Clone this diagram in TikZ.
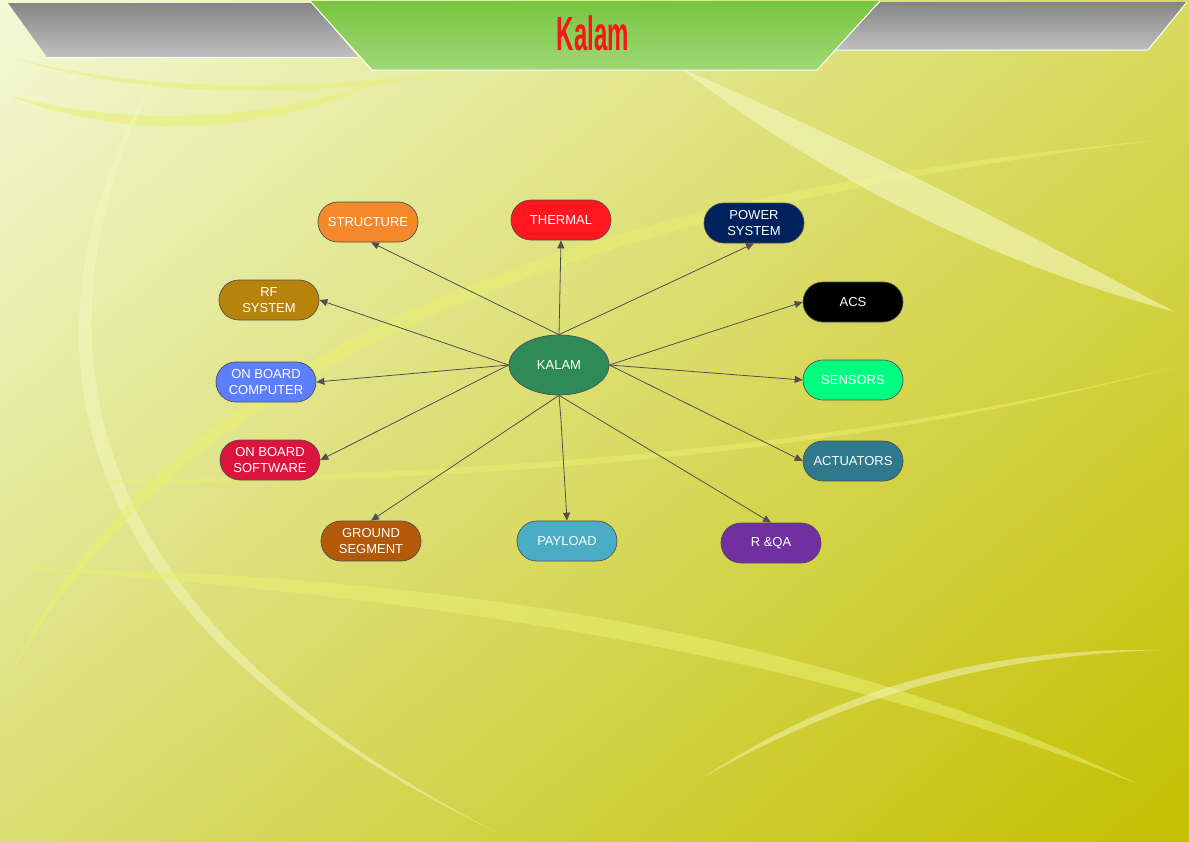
\documentclass[tikz,border=0pt]{standalone}
\usepackage{fontspec}
\usepackage{graphicx}
\setmainfont{Liberation Sans}
\usetikzlibrary{arrows.meta,shapes.geometric,shadings}
\definecolor{bgTL}{HTML}{F3F9D6}
\definecolor{bgTR}{HTML}{D8DA5E}
\definecolor{bgBL}{HTML}{DADE72}
\definecolor{bgBR}{HTML}{C4BF00}
\definecolor{swoosh}{HTML}{E8F070}
\definecolor{swooshLight}{HTML}{F4F8C0}
\definecolor{cStructure}{HTML}{F5882A}
\definecolor{cThermal}{HTML}{FF161E}
\definecolor{cPower}{HTML}{00215E}
\definecolor{cAcs}{HTML}{000000}
\definecolor{cSensors}{HTML}{00FF80}
\definecolor{cActuators}{HTML}{2E7A8C}
\definecolor{cRqa}{HTML}{7030A0}
\definecolor{cPayload}{HTML}{4BACC6}
\definecolor{cGround}{HTML}{B4580A}
\definecolor{cObs}{HTML}{DC143C}
\definecolor{cObc}{HTML}{5B7FFF}
\definecolor{cRf}{HTML}{B8830B}
\definecolor{cKalam}{HTML}{2E8B57}
\definecolor{edgeGray}{HTML}{505050}
\definecolor{titleRed}{HTML}{F51616}
\definecolor{hdrGreenTop}{HTML}{76C63E}
\definecolor{hdrGreenBot}{HTML}{A0D878}
\tikzset{
  pill/.style={draw=edgeGray, line width=0.7pt, rounded corners=19.9pt,
    minimum width=100pt, minimum height=40pt, inner sep=0pt,
    text=white, align=center, font=\fontsize{13}{16}\selectfont},
  hub/.style={draw=edgeGray, line width=0.7pt, ellipse, fill=cKalam,
    minimum width=100pt, minimum height=60pt, inner sep=0pt,
    text=white, font=\fontsize{13}{16}\selectfont},
  link/.style={draw=edgeGray, line width=0.8pt, -{Triangle[length=8pt,width=7pt]}},
  sw/.style={fill=swoosh, opacity=0.55},
  swl/.style={fill=swooshLight, opacity=0.5},
}
\begin{document}
\begin{tikzpicture}[x=1pt,y=-1pt]
\useasboundingbox (0,0) rectangle (1189,841);
% background
\shade[upper left=bgTL, upper right=bgTR, lower left=bgBL, lower right=bgBR] (0,0) rectangle (1189,841);
% swooshes (tapered crescents)
\fill[sw] (15,58) .. controls (150,95) and (330,90) .. (470,70) .. controls (330,97) and (150,102) .. cycle;
\fill[sw] (8,95) .. controls (120,126) and (260,124) .. (390,78) .. controls (260,138) and (120,140) .. cycle;
\fill[swl] (165,58) .. controls (18,300) and (18,600) .. (498,833) .. controls (38,596) and (36,300) .. cycle;
\fill[sw] (6,682) .. controls (150,380) and (500,200) .. (1160,140) .. controls (500,220) and (165,395) .. cycle;
\fill[sw] (8,568) .. controls (400,572) and (800,622) .. (1140,785) .. controls (800,648) and (400,594) .. cycle;
\fill[swl] (704,777) .. controls (850,680) and (1000,648) .. (1160,650) .. controls (1000,656) and (858,690) .. cycle;
\fill[sw] (15,482) .. controls (400,477) and (800,460) .. (1175,367) .. controls (800,467) and (400,486) .. cycle;
\fill[swl, opacity=0.6] (680,68) .. controls (850,140) and (1000,220) .. (1175,312) .. controls (990,262) and (830,182) .. cycle;
% header
\shade[top color=gray!95, bottom color=gray!50] (8,3) -- (312,3) -- (358,57) -- (47,57) -- cycle;
\draw[white, line width=1pt] (47,57) -- (358,57);
\shade[top color=gray!95, bottom color=gray!50] (880,2) -- (1187,2) -- (1148,50) -- (833,50) -- cycle;
\draw[white, line width=1pt] (833,50) -- (1148,50) -- (1187,2);
\shade[top color=hdrGreenTop, bottom color=hdrGreenBot] (310,1) -- (880,1) -- (817,70) -- (372,70) -- cycle;
\draw[white, line width=1pt] (310,1) -- (372,70) -- (817,70) -- (880,1);
\node[text=titleRed, inner sep=0pt] (title) at (593,33)
  {\scalebox{0.5}[1]{\fontsize{48}{48}\selectfont\bfseries Kalam}};
% nodes
\node[hub] (kalam) at (559,365) {KALAM};
\node[pill, fill=cStructure] (structure) at (368,222) {STRUCTURE};
\node[pill, fill=cThermal] (thermal) at (561,220) {THERMAL};
\node[pill, fill=cPower] (power) at (754,223) {POWER\\SYSTEM};
\node[pill, fill=cAcs] (acs) at (853,302) {ACS};
\node[pill, fill=cSensors] (sensors) at (853,380) {SENSORS};
\node[pill, fill=cActuators] (actuators) at (853,461) {ACTUATORS};
\node[pill, fill=cRqa] (rqa) at (771,543) {R \&QA};
\node[pill, fill=cPayload] (payload) at (567,541) {PAYLOAD};
\node[pill, fill=cGround] (ground) at (371,541) {GROUND\\SEGMENT};
\node[pill, fill=cObs] (obs) at (270,460) {ON BOARD\\SOFTWARE};
\node[pill, fill=cObc] (obc) at (266,382) {ON BOARD\\COMPUTER};
\node[pill, fill=cRf] (rf) at (269,300) {RF\\SYSTEM};
% connectors
\draw[link] (kalam.north) -- ([xshift=3pt]structure.south);
\draw[link] (kalam.north) -- (thermal.south);
\draw[link] (kalam.north) -- (power.south);
\draw[link] (kalam.west) -- (rf.east);
\draw[link] (kalam.west) -- (obc.east);
\draw[link] (kalam.west) -- (obs.east);
\draw[link] (kalam.east) -- (acs.west);
\draw[link] (kalam.east) -- (sensors.west);
\draw[link] (kalam.east) -- (actuators.west);
\draw[link] (kalam.south) -- (ground.north);
\draw[link] (kalam.south) -- ++(2,25) -- (payload.north);
\draw[link] (kalam.south) -- (rqa.north);
\end{tikzpicture}
\end{document}
